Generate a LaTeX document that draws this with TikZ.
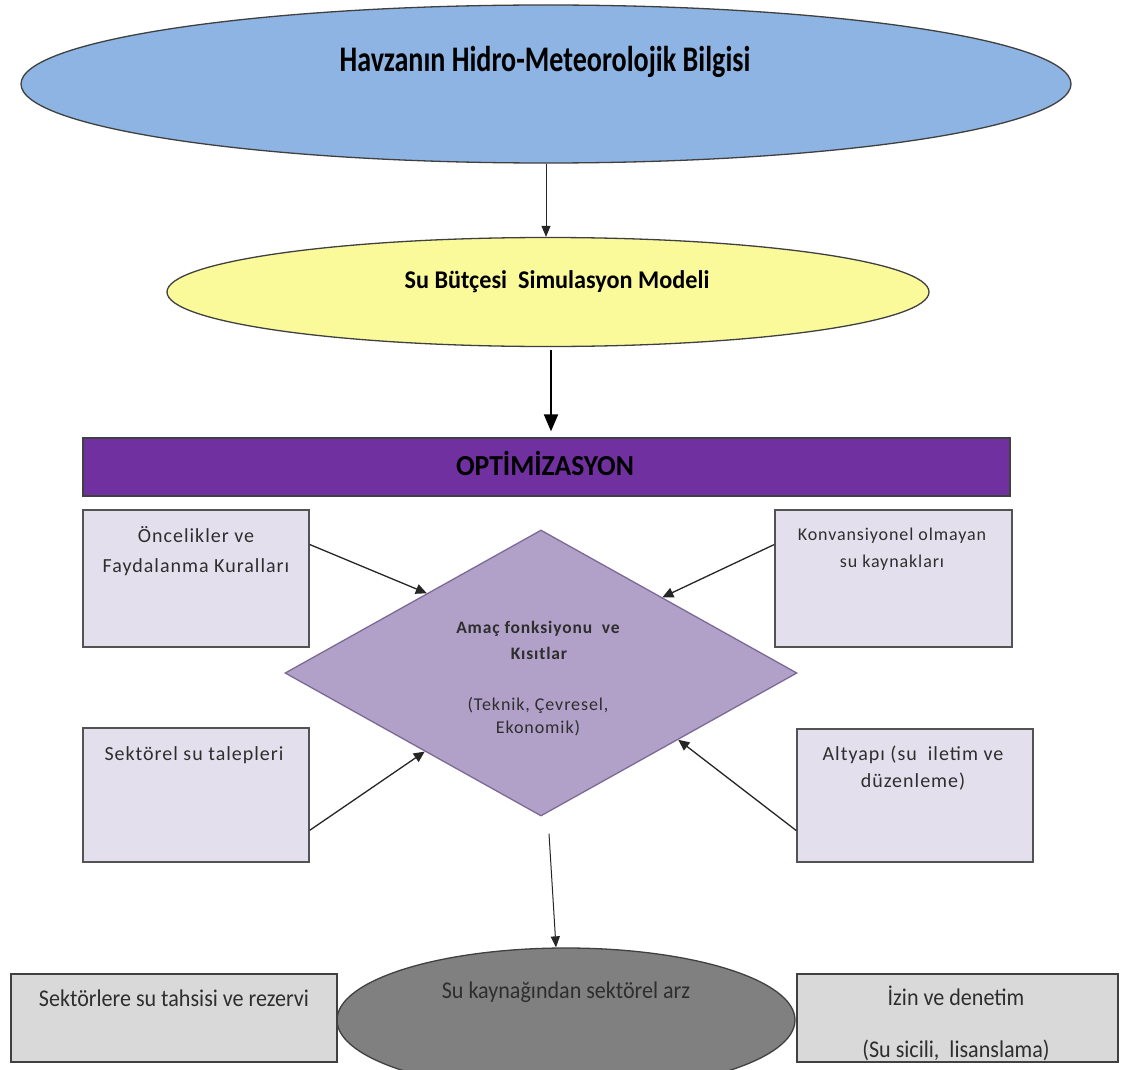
\documentclass[tikz,border=0pt]{standalone}
\usepackage{fontspec}
% Carlito cuts: narrow headings, spaced box labels, condensed footer labels
\newfontfamily\carlT{Carlito}[FakeStretch=0.78]
\newfontfamily\carlM{Carlito}[FakeStretch=0.95]
\newfontfamily\carlB{Carlito}[LetterSpace=5]
\newfontfamily\carlG{Carlito}[FakeStretch=0.92]
\usetikzlibrary{shapes.geometric,arrows.meta,calc}
\definecolor{skyfill}{HTML}{8DB4E2}
\definecolor{lemon}{RGB}{250,250,155}
\definecolor{violetbar}{HTML}{7030A0}
\definecolor{lavbox}{HTML}{E4DFEC}
\definecolor{lavdia}{HTML}{B1A0C7}
\definecolor{diaedge}{HTML}{7D6996}
\definecolor{greyell}{HTML}{808080}
\definecolor{greybox}{HTML}{D9D9D9}
\definecolor{edge}{HTML}{404040}
\definecolor{ink}{HTML}{2E2E2E}
\begin{document}
\begin{tikzpicture}[x=1pt,y=-1pt,
  oval/.style={ellipse,inner sep=0pt,draw=edge,line width=1.3pt},
  sidebox/.style={rectangle,inner sep=0pt,fill=lavbox,draw=edge!90,line width=1.6pt},
  basebox/.style={rectangle,inner sep=0pt,fill=greybox,draw=edge,line width=1.6pt},
  lbl/.style={anchor=base,inner sep=0pt,text=ink,align=center},
  feed/.style={draw=black!85,line width=1.3pt,-{Triangle[length=11pt,width=10pt]}},
  thin/.style={draw=black!85,line width=1pt,-{Triangle[length=11pt,width=9pt]}}
]
\clip (0,0) rectangle (1121,1070);
\fill[white] (0,0) rectangle (1121,1070);

% ellipses and the optimisation bar
\node[oval,fill=skyfill,minimum width=1050pt,minimum height=158pt] (hydro) at (546,84) {};
\node[oval,fill=lemon,minimum width=762pt,minimum height=109pt] (sim) at (548,292) {};
\node[rectangle,inner sep=0pt,fill=violetbar,draw=edge,line width=1.3pt,
      minimum width=927pt,minimum height=58pt] (opt) at (546.5,467) {};

% input boxes around the objective
\node[sidebox,minimum width=226pt,minimum height=137pt] (prio) at (196,578.5) {};
\node[sidebox,minimum width=237pt,minimum height=137pt] (unconv) at (893.5,578.5) {};
\node[sidebox,minimum width=226pt,minimum height=134pt] (demand) at (196,795) {};
\node[sidebox,minimum width=236pt,minimum height=133pt] (infra) at (915,795.5) {};

% objective function
\node[diamond,inner sep=0pt,fill=lavdia,draw=diaedge,line width=1.3pt,
      minimum width=512pt,minimum height=286pt] (obj) at (541,673) {};

% supply and its neighbours
\node[oval,fill=greyell,minimum width=458pt,minimum height=144pt] (supply) at (566,1020) {};
\node[basebox,minimum width=326pt,minimum height=88pt] (alloc) at (174,1018) {};
\node[basebox,minimum width=321pt,minimum height=88pt] (permit) at (957.5,1018) {};

% texts
\node[lbl,text=black] (t1) at (545,72) {\carlT\fontsize{36}{42}\selectfont\bfseries Havzanın Hidro-Meteorolojik Bilgisi};
\node[lbl,text=black] (t2) at (557,288) {\carlM\fontsize{25.5}{30}\selectfont\bfseries Su Bütçesi\ \ Simulasyon Modeli};
\node[lbl,text=black] (t3) at (545,475) {\carlM\fontsize{29}{34}\selectfont\bfseries OPTİMİZASYON};
\node[lbl] (t4a) at (196,542) {\carlB\fontsize{20}{24}\selectfont Öncelikler ve};
\node[lbl] (t4b) at (196,572) {\carlB\fontsize{20}{24}\selectfont Faydalanma Kuralları};
\node[lbl] (t5a) at (892,540) {\carlB\fontsize{18}{22}\selectfont Konvansiyonel olmayan};
\node[lbl] (t5b) at (892,567) {\carlB\fontsize{18}{22}\selectfont su kaynakları};
\node[lbl] (t6) at (194,760) {\carlB\fontsize{20}{24}\selectfont Sektörel su talepleri};
\node[lbl] (t7a) at (913,760) {\carlB\fontsize{20}{24}\selectfont Altyapı (su\ \ iletim ve};
\node[lbl] (t7b) at (913,787) {\carlB\fontsize{20}{24}\selectfont düzenleme)};
\node[lbl] (t8a) at (538,633) {\carlB\fontsize{17.5}{20}\selectfont\bfseries Amaç fonksiyonu\ \ ve};
\node[lbl] (t8b) at (539,659) {\carlB\fontsize{17.5}{20}\selectfont\bfseries Kısıtlar};
\node[lbl] (t8c) at (538,710) {\carlB\fontsize{18}{20}\selectfont (Teknik, Çevresel,};
\node[lbl] (t8d) at (538,733) {\carlB\fontsize{18}{20}\selectfont Ekonomik)};
\node[lbl] (t9) at (566,998) {\carlG\fontsize{24}{28}\selectfont Su kaynağından sektörel arz};
\node[lbl] (t10) at (174,1006) {\carlG\fontsize{24}{28}\selectfont Sektörlere su tahsisi ve rezervi};
\node[lbl] (t11a) at (956,1005) {\carlG\fontsize{24}{28}\selectfont İzin ve denetim};
\node[lbl] (t11b) at (956,1057) {\carlG\fontsize{24}{28}\selectfont (Su sicili,\ \ lisanslama)};

% connectors
\draw[thin] (hydro.south) -- (hydro.south |- sim.north);
\draw[draw=black,line width=2pt,-{Triangle[length=17pt,width=14pt]}]
  ([xshift=3pt,yshift=-3pt]sim.south) -- ([xshift=4.5pt,yshift=6pt]opt.north);
\draw[feed] ($(prio.north east)!0.255!(prio.south east)$) -- ($(obj.north)!0.445!(obj.west)$);
\draw[feed] ($(demand.north east)!0.76!(demand.south east)$) -- ($(obj.south)!0.453!(obj.west)$);
\draw[feed] ($(unconv.north west)!0.255!(unconv.south west)$) -- ($(obj.north)!0.473!(obj.east)$);
\draw[feed] ($(infra.north west)!0.76!(infra.south west)$) -- ($(obj.south)!0.535!(obj.east)$);
\draw[thin] ([xshift=8pt,yshift=-17pt]obj.south) -- ([xshift=-10pt]supply.north);
\end{tikzpicture}
\end{document}
